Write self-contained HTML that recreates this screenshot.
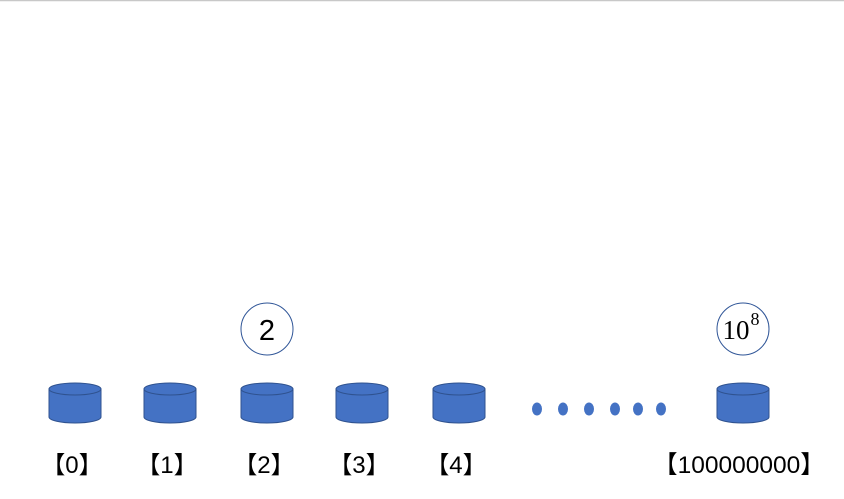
<!DOCTYPE html>
<html><head><meta charset="utf-8"><style>
html,body{margin:0;padding:0;background:#fff;}
svg{display:block;}
text{font-family:"Liberation Sans","Noto Sans CJK SC",sans-serif;}
</style></head><body>
<svg width="844" height="499" viewBox="0 0 844 499">
<line x1="0" y1="0.5" x2="844" y2="0.5" stroke="#c8c8c8" stroke-width="1.5"/>
<g id="cyls"></g>
<g fill="#4472c4">
<ellipse cx="537" cy="409" rx="5" ry="6.5"/><ellipse cx="563" cy="409" rx="5" ry="6.5"/><ellipse cx="589" cy="409" rx="5" ry="6.5"/><ellipse cx="615" cy="409" rx="5" ry="6.5"/><ellipse cx="638" cy="409" rx="5" ry="6.5"/><ellipse cx="661" cy="409" rx="5" ry="6.5"/>
</g>
<g>
<circle cx="267" cy="329" r="26" fill="#fff" stroke="#2f5597" stroke-width="1"/>
<text x="267" y="340" text-anchor="middle" font-size="29">2</text>
</g>
<g>
<circle cx="743" cy="329" r="26" fill="#fff" stroke="#2f5597" stroke-width="1"/>
<text x="736" y="339" text-anchor="middle" style="font-family:'Liberation Serif',serif;font-size:27px">10</text>
<text x="755" y="325" text-anchor="middle" style="font-family:'Liberation Serif',serif;font-size:18px">8</text>
</g>
</svg>
<script>
const xs=[75,170,267,362,459,743];
const labels=['【0】','【1】','【2】','【3】','【4】','【100000000】'];
const g=document.getElementById('cyls');
const ns='http://www.w3.org/2000/svg';
xs.forEach((x,i)=>{
  const c=document.createElementNS(ns,'g');
  
  
  c.innerHTML=`<path d="M${x-26},389 L${x-26},417 A26,6 0 0 0 ${x+26},417 L${x+26},389 Z" fill="#4472c4" stroke="#2f528f" stroke-width="1"/>
<ellipse cx="${x}" cy="389" rx="26" ry="6" fill="#4472c4" stroke="#2f528f" stroke-width="1"/>`;
  g.appendChild(c);
  const t=document.createElementNS(ns,'text');
  
  
  t.setAttribute('x',i==5?x-4:x-3);t.setAttribute('y',473);
  t.setAttribute('text-anchor','middle');
  t.setAttribute('style','font-size:'+(i==5?'24.5px':'24px'));
  t.textContent=labels[i];
  g.appendChild(t);
});
</script>
</body></html>
